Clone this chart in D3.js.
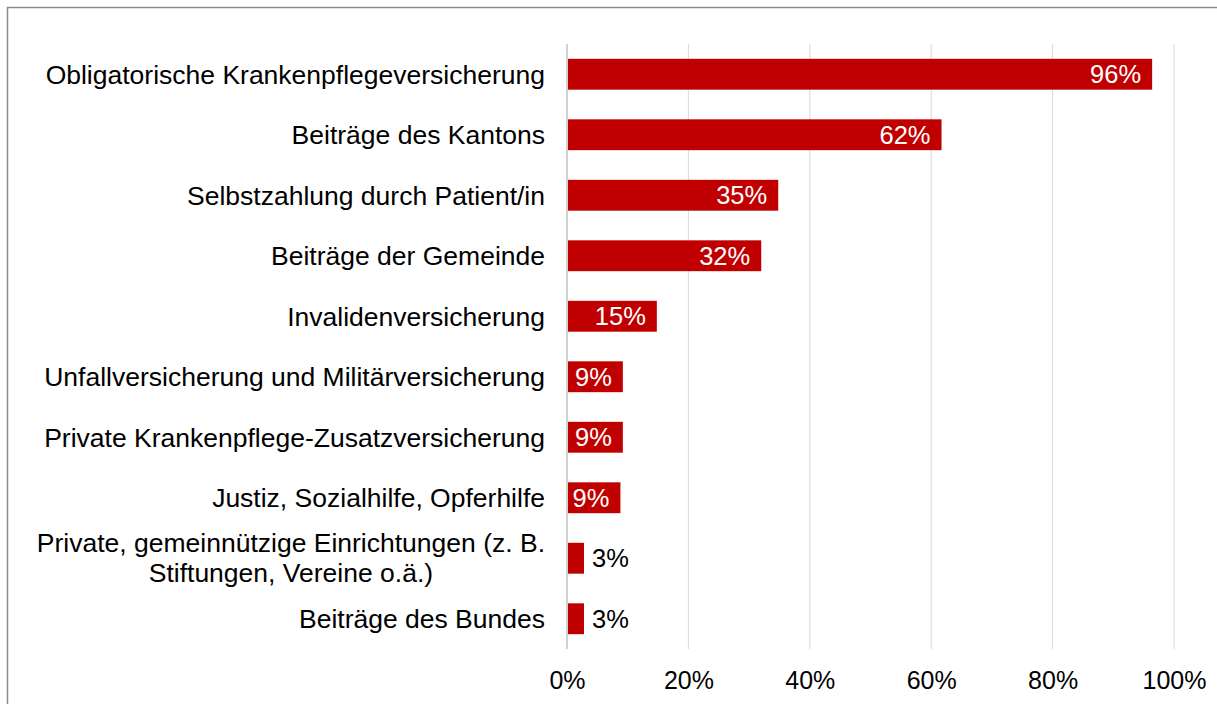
<!DOCTYPE html>
<html>
<head>
<meta charset="utf-8">
<script src="https://cdn.jsdelivr.net/npm/d3@7"></script>
<style>
  body { margin: 0; background: #fff; }
  text { font-family: Arial, "Liberation Sans", sans-serif; fill: #000; }
</style>
</head>
<body>
<div id="chart"></div>
<script>
// categories, top to bottom
let categories = [
    "Obligatorische Krankenpflegeversicherung",
    "Beiträge des Kantons",
    "Selbstzahlung durch Patient/in",
    "Beiträge der Gemeinde",
    "Invalidenversicherung",
    "Unfallversicherung und Militärversicherung",
    "Private Krankenpflege-Zusatzversicherung",
    "Justiz, Sozialhilfe, Opferhilfe",
    "Private, gemeinnützige Einrichtungen (z. B.|Stiftungen, Vereine o.ä.)",
    "Beiträge des Bundes"
];
// share of answers
let values = [0.964, 0.617, 0.348, 0.320, 0.148, 0.092, 0.092, 0.088, 0.028, 0.028];
let ticks = [0, 0.2, 0.4, 0.6, 0.8, 1.0];

let svgWidth = 1217;
let svgHeight = 704;

let margin = { top: 44, right: 43, bottom: 55, left: 567 };
let width = svgWidth - margin.left - margin.right;
let height = svgHeight - margin.top - margin.bottom;

let svg = d3.select('#chart')
    .append('svg')
    .attr('width', svgWidth)
    .attr('height', svgHeight);

// outer frame (only left and top visible)
svg.append('path')
    .attr('d', `M7.5,${svgHeight} V7.5 H${svgWidth}`)
    .attr('fill', 'none')
    .attr('stroke', '#8c8c8c')
    .attr('stroke-width', 1.5);

let chartGroup = svg.append('g')
    .attr('transform', `translate(${margin.left}, ${margin.top})`);

let xScale = d3.scaleLinear().domain([0, 1]).range([0, width]);
let yScale = d3.scaleBand()
    .domain(categories)
    .range([0, height])
    .paddingInner(0.49)
    .paddingOuter(0.245);

// gridlines
chartGroup.selectAll('.grid')
    .data(ticks.slice(1))
    .enter()
    .append('line')
    .attr('x1', d => xScale(d))
    .attr('x2', d => xScale(d))
    .attr('y1', 0)
    .attr('y2', height)
    .attr('stroke', '#d9d9d9')
    .attr('stroke-width', 1);

// x axis
let xAxis = chartGroup.append('g')
    .attr('transform', `translate(0,${height})`)
    .call(d3.axisBottom(xScale).tickValues(ticks).tickFormat(d3.format('.0%')).tickSize(0).tickPadding(22));
xAxis.select('.domain').remove();
xAxis.selectAll('text')
    .style('font-size', '25px')
    .style('font-family', 'Arial, "Liberation Sans", sans-serif')
    .attr('fill', '#000');

// bars
chartGroup.selectAll('rect')
    .data(values)
    .enter()
    .append('rect')
    .attr('x', 0)
    .attr('y', (d, i) => yScale(categories[i]))
    .attr('width', d => xScale(d))
    .attr('height', yScale.bandwidth())
    .attr('fill', '#c00000');

// zero line (left axis)
chartGroup.append('line')
    .attr('x1', 0).attr('x2', 0)
    .attr('y1', 0).attr('y2', height)
    .attr('stroke', '#d0d0d0')
    .attr('stroke-width', 2);

// data labels
chartGroup.selectAll('.label')
    .data(values)
    .enter()
    .append('text')
    .attr('class', 'label')
    .attr('x', d => d > 0.05 ? xScale(d) - 11 : xScale(d) + 8)
    .attr('y', (d, i) => yScale(categories[i]) + yScale.bandwidth() / 2)
    .attr('dy', '0.35em')
    .attr('text-anchor', d => d > 0.05 ? 'end' : 'start')
    .style('font-size', '25.5px')
    .style('fill', d => d > 0.05 ? '#fff' : '#000')
    .text(d => Math.round(d * 100) + '%');

// category labels
let catLabels = chartGroup.selectAll('.cat')
    .data(categories)
    .enter()
    .append('text')
    .attr('class', 'cat')
    .attr('y', d => yScale(d) + yScale.bandwidth() / 2)
    .style('font-size', '26.5px');

catLabels.each(function(d) {
    let lines = d.split('|');
    let t = d3.select(this);
    if (lines.length === 1) {
        t.attr('x', -22).attr('text-anchor', 'end').attr('dy', '0.35em').text(d);
    } else {
        // multi-line labels: lines centred on each other, block right aligned
        t.attr('text-anchor', 'middle');
        lines.forEach((ln, k) => {
            t.append('tspan')
                .attr('x', 0)
                .attr('dy', k === 0 ? '-0.22em' : '1.13em')
                .text(ln);
        });
        let w = this.getBBox().width;
        t.selectAll('tspan').attr('x', -22 - w / 2);
    }
});
</script>
</body>
</html>
